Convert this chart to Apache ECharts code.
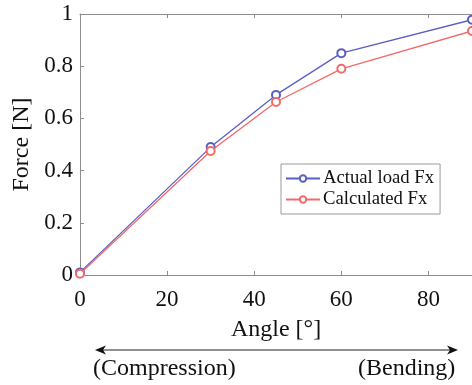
<!DOCTYPE html>
<html>
<head>
<meta charset="utf-8">
<script src="https://cdn.jsdelivr.net/npm/echarts@6/dist/echarts.min.js"></script>
<style>
  html, body { margin: 0; padding: 0; background: #fff; }
  #chart { width: 472px; height: 385px; }
</style>
</head>
<body>
<div id="chart"></div>
<script>
// Bending angle of the actuator (degrees)
const angles = [0, 30, 45, 60, 90];
// Measured tip force and model prediction (N)
const actualFx = [0.01, 0.49, 0.69, 0.85, 0.978];
const calculatedFx = [0.005, 0.475, 0.663, 0.79, 0.935];

const seriesNames = ['Actual load Fx', 'Calculated Fx'];
const xAxisTitle = 'Angle [°]';
const yAxisTitle = 'Force [N]';
const leftNote = '(Compression)';
const rightNote = '(Bending)';

const serif = 'Liberation Serif, Times New Roman, serif';
const textColor = '#111';
const axisGray = '#8c8c8c';
const titleFont = { fontFamily: serif, fontSize: 24, color: textColor };
const tickFont = { fontFamily: serif, fontSize: 23, color: textColor };

const chart = echarts.init(document.getElementById('chart'));

function pairs(xs, ys) { return xs.map((x, i) => [x, ys[i]]); }

chart.setOption({
  animation: false,
  grid: { left: 80, top: 14, right: -1, bottom: 110, containLabel: false },
  xAxis: [{
    type: 'value', min: 0, max: 90, interval: 20,
    name: xAxisTitle, nameLocation: 'middle', nameGap: 43,
    nameTextStyle: titleFont,
    axisLine: { show: true, lineStyle: { color: axisGray, width: 1 } },
    axisTick: { show: true, inside: true, length: 4, lineStyle: { color: axisGray } },
    axisLabel: Object.assign({ margin: 13, showMaxLabel: false }, tickFont),
    splitLine: { show: false }
  }, {
    type: 'value', min: 0, max: 90, interval: 20, position: 'top',
    axisLine: { show: true, lineStyle: { color: axisGray, width: 1 } },
    axisTick: { show: true, inside: true, length: 4, lineStyle: { color: axisGray } },
    axisLabel: { show: false },
    splitLine: { show: false }
  }],
  yAxis: {
    type: 'value', min: 0, max: 1, interval: 0.2,
    name: yAxisTitle, nameLocation: 'middle', nameGap: 44, nameRotate: 90,
    nameTextStyle: titleFont,
    axisLine: { show: true, lineStyle: { color: axisGray, width: 1 } },
    axisTick: { show: true, inside: true, length: 4, lineStyle: { color: axisGray } },
    axisLabel: Object.assign({ margin: 7 }, tickFont),
    splitLine: { show: false }
  },
  legend: {
    data: seriesNames,
    orient: 'vertical',
    left: 281, top: 164,
    itemWidth: 34, itemHeight: 8, itemGap: 2,
    padding: [5, 6, 5, 4],
    borderColor: '#9a9a9a', borderWidth: 1,
    backgroundColor: '#fff',
    textStyle: { fontFamily: serif, fontSize: 18.7, color: textColor, padding: [0, 0, 0, -2] }
  },
  series: [{
    name: seriesNames[0], type: 'line',
    data: pairs(angles, actualFx),
    symbol: 'emptyCircle', symbolSize: 8,
    lineStyle: { color: '#5a5fc4', width: 1.3 },
    itemStyle: { color: '#5a5fc4', borderWidth: 1.3 },
    z: 3
  }, {
    name: seriesNames[1], type: 'line',
    data: pairs(angles, calculatedFx),
    symbol: 'emptyCircle', symbolSize: 8,
    lineStyle: { color: '#f26a6a', width: 1.3 },
    itemStyle: { color: '#f26a6a', borderWidth: 1.3 },
    z: 4
  }],
  graphic: [{
    type: 'line',
    shape: { x1: 99, y1: 350, x2: 454, y2: 350 },
    style: { stroke: '#222', lineWidth: 1.2 }
  }, {
    type: 'polygon',
    shape: { points: [[95, 350], [106, 345.5], [103, 350], [106, 354.5]] },
    style: { fill: '#111' }
  }, {
    type: 'polygon',
    shape: { points: [[458, 350], [447, 345.5], [450, 350], [447, 354.5]] },
    style: { fill: '#111' }
  }, {
    type: 'text', left: 93, top: 357,
    style: { text: leftNote, font: '24px ' + serif, fill: textColor }
  }, {
    type: 'text', left: 358, top: 357,
    style: { text: rightNote, font: '24px ' + serif, fill: textColor }
  }]
});
</script>
</body>
</html>
